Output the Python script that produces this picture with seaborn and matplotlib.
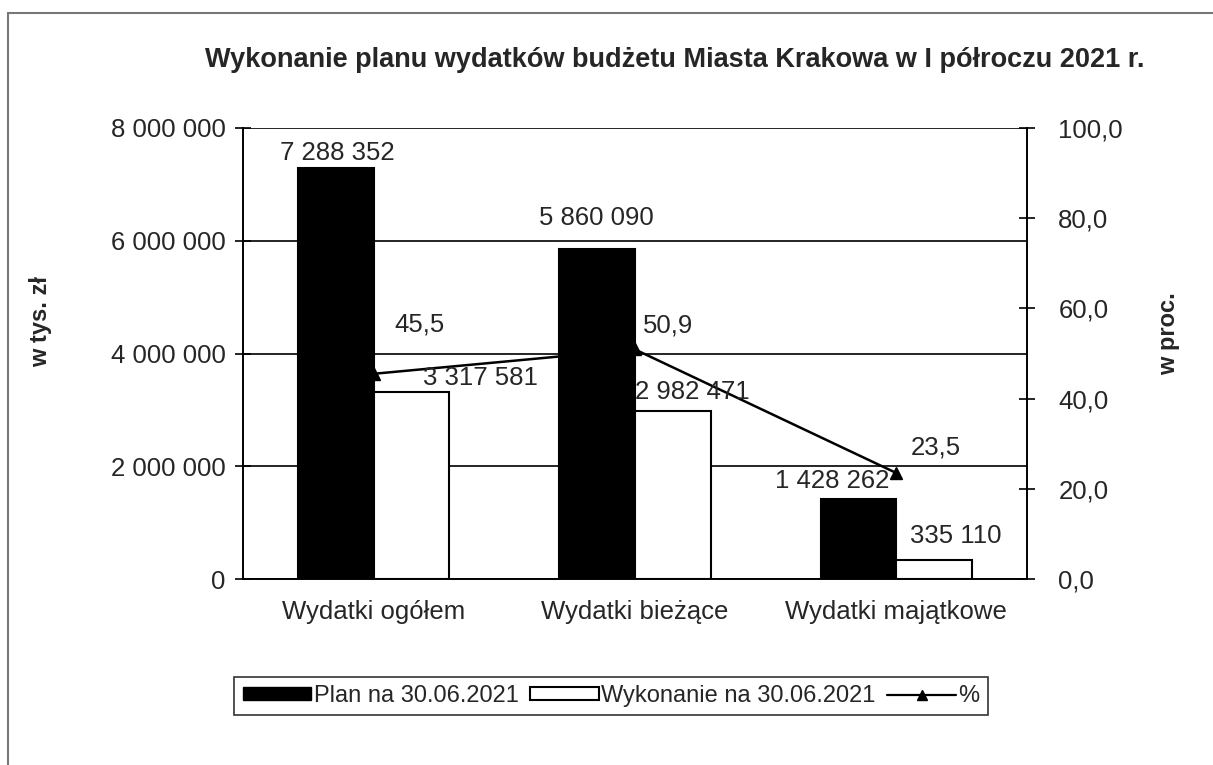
import numpy as np
import pandas as pd
import matplotlib
matplotlib.use("Agg")
import matplotlib.pyplot as plt
import seaborn as sns
from matplotlib.patches import Patch
from matplotlib.lines import Line2D
from matplotlib.ticker import FuncFormatter

# dane (tys. zl)
kategorie = ["Wydatki ogółem", "Wydatki bieżące", "Wydatki majątkowe"]
plan = [7288352, 5860090, 1428262]
wykonanie = [3317581, 2982471, 335110]
procent = [45.5, 50.9, 23.5]
serie = ["Plan na 30.06.2021", "Wykonanie na 30.06.2021"]

df = pd.DataFrame({
    "kategoria": kategorie * 2,
    "wartosc": plan + wykonanie,
    "seria": [serie[0]] * 3 + [serie[1]] * 3,
})

# przesuniecia etykiet w pikselach (jak w oryginale)
off_plan = [(2, 15), (-1, 31), (-26, 18)]
off_wyk = [(69, 14), (19, 19), (21, 24)]
off_proc = [(46, 49), (33, 24), (39, 26)]

sns.set_style("white")
plt.rcParams["font.family"] = ["Liberation Sans", "DejaVu Sans"]

fig = plt.figure(figsize=(12.13, 7.65), dpi=100)
ax = fig.add_axes([0.2003, 0.2431, 0.6464, 0.5896])
ax2 = ax.twinx()
ax.set_zorder(2)
ax2.set_zorder(1)
ax.patch.set_visible(False)

sns.barplot(data=df, x="kategoria", y="wartosc", hue="seria", hue_order=serie,
            palette=["black", "white"], edgecolor="black", linewidth=1.5,
            width=0.58, saturation=1, legend=False, ax=ax)

x_pos = np.arange(len(kategorie))
ax2.plot(x_pos, procent, color="black", lw=1.8, marker="^", markersize=9, zorder=3)

fs = 18.5
fmt_tys = lambda v: f"{v:,.0f}".replace(",", " ")

for cont, offs in zip(ax.containers, [off_plan, off_wyk]):
    for bar, (dx, dy) in zip(cont.patches, offs):
        xc = bar.get_x() + bar.get_width() / 2
        h = bar.get_height()
        ax.annotate(fmt_tys(h), (xc, h), xytext=(dx, dy), textcoords="offset pixels",
                    ha="center", va="center", fontsize=fs, zorder=5)

for xi, p, (dx, dy) in zip(x_pos, procent, off_proc):
    ax2.annotate(f"{p:.1f}".replace(".", ","), (xi, p), xytext=(dx, dy),
                 textcoords="offset pixels", ha="center", va="center", fontsize=fs)

ax.set_xlim(-0.5, 2.5)
ax.set_ylim(0, 8000000)
ax.set_yticks(np.arange(0, 8000001, 2000000))
ax.yaxis.set_major_formatter(FuncFormatter(lambda v, p: fmt_tys(v)))
ax2.set_ylim(0, 100)
ax2.set_yticks(np.arange(0, 101, 20))
ax2.yaxis.set_major_formatter(FuncFormatter(lambda v, p: f"{v:.1f}".replace(".", ",")))

ax.set_axisbelow(True)
ax.yaxis.grid(True, color="black", lw=1.2)
ax.xaxis.grid(False)

ax.set_xticks(x_pos)
ax.set_xticklabels(kategorie)
ax.set_xticks([-0.5, 0.5, 1.5, 2.5], minor=True)
ax.tick_params(axis="x", which="major", length=0, pad=15, labelsize=fs)
ax.tick_params(axis="x", which="minor", direction="inout", length=11, width=1.2, color="black")
ax.tick_params(axis="y", direction="inout", length=11, width=1.2, pad=7, labelsize=fs, color="black")
ax2.tick_params(axis="y", direction="inout", length=11, width=1.2, pad=17, labelsize=fs, color="black")

for a in (ax, ax2):
    for s in a.spines.values():
        s.set_color("black")
        s.set_linewidth(1.2)
    a.spines["top"].set_visible(False)

ax.set_xlabel("")
ax.set_ylabel("w tys. zł", fontsize=17, fontweight="bold")
ax.yaxis.set_label_coords(-0.243, 0.57)
ax2.set_ylabel("w proc.", fontsize=17, fontweight="bold")
ax2.yaxis.set_label_coords(1.166, 0.545)

fig.text(0.5565, 0.9216, "Wykonanie planu wydatków budżetu Miasta Krakowa w I półroczu 2021 r.",
         ha="center", va="center", fontsize=19.5, fontweight="bold")

handles = [
    Patch(facecolor="black", edgecolor="black"),
    Patch(facecolor="white", edgecolor="black", linewidth=1.5),
    Line2D([], [], color="black", lw=1.6, marker="^", markersize=7),
]
leg = fig.legend(handles, serie + ["%"], loc="center", bbox_to_anchor=(611 / 1213, 1 - 696 / 765),
                 ncol=3, frameon=True, fancybox=False, fontsize=17, handlelength=2.9,
                 handleheight=0.45, handletextpad=0.1, columnspacing=0.5, borderpad=0.35,
                 edgecolor="black")
leg.get_frame().set_linewidth(1.2)

# ramka wykresu
fig.add_artist(Line2D([8 / 1213, 1], [1 - 13 / 765] * 2, color="#777777", lw=1.5))
fig.add_artist(Line2D([8 / 1213] * 2, [0, 1 - 13 / 765], color="#777777", lw=1.5))

fig.savefig("out.png", dpi=100, facecolor="white")
